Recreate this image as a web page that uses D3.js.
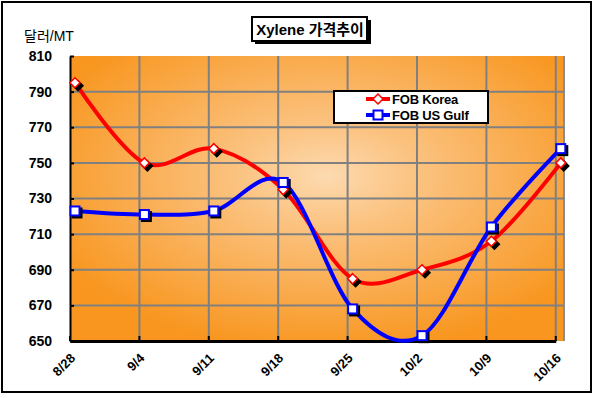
<!DOCTYPE html>
<html><head><meta charset="utf-8">
<script src="https://cdn.jsdelivr.net/npm/d3@7"></script>
<style>body{margin:0;background:#fff}svg{display:block}</style>
</head><body><svg id="c" width="593" height="398"></svg>
<script>
const categories = ["8/28","9/4","9/11","9/18","9/25","10/2","10/9","10/16"];
const fobKorea = [795, 750, 758, 735, 685, 690, 706, 750];
const fobUSGulf = [723, 721, 723, 739, 668, 653, 714, 758];
const yTicks = [650, 670, 690, 710, 730, 750, 770, 790, 810];
const seriesNames = ["FOB Korea", "FOB US Gulf"];
const seriesColors = ["#ff0000", "#0000ff"];

const svg = d3.select("#c");
const fontF = "Arial, 'Liberation Sans', 'Noto Sans CJK KR', sans-serif";

// outer border
svg.append("rect").attr("x",2).attr("y",2).attr("width",589).attr("height",390)
  .attr("fill","#fff").attr("stroke","#000").attr("stroke-width",2);

const L = 70, R = 564, T = 56, B = 341;
const x = d3.scalePoint().domain(categories).range([L, 555.8]);
const mx = d => x(d) + 5;
const y = d3.scaleLinear().domain([650, 810]).range([B, T]);

const defs = svg.append("defs");
const rg = defs.append("radialGradient").attr("id","bg")
  .attr("cx","52%").attr("cy","42%").attr("r","62%");
rg.append("stop").attr("offset","0%").attr("stop-color","#fddab0");
rg.append("stop").attr("offset","30%").attr("stop-color","#fbc27f");
rg.append("stop").attr("offset","100%").attr("stop-color","#f8961f");

svg.append("rect").attr("x",L).attr("y",T).attr("width",R-L).attr("height",B-T)
  .attr("fill","url(#bg)");
svg.append("line").attr("x1",R).attr("x2",R).attr("y1",T).attr("y2",B)
  .attr("stroke","#8c8c8c").attr("stroke-width",2);

// gridlines
svg.append("g").selectAll("line").data(yTicks.filter(t => t > 650 && t < 810)).join("line")
  .attr("x1",L).attr("x2",R).attr("y1",d=>y(d)).attr("y2",d=>y(d))
  .attr("stroke","#808080").attr("stroke-width",2);
svg.append("g").selectAll("line").data(categories.slice(1)).join("line")
  .attr("x1",d=>x(d)).attr("x2",d=>x(d)).attr("y1",T).attr("y2",B)
  .attr("stroke","#808080").attr("stroke-width",2);

// axes
const yAxis = svg.append("g").attr("transform",`translate(${L},0)`)
  .call(d3.axisLeft(y).tickValues(yTicks).tickSize(4).tickSizeOuter(0).tickPadding(14));
yAxis.select(".domain").attr("stroke","#000").attr("stroke-width",2);
yAxis.selectAll(".tick line").attr("stroke","#000").attr("stroke-width",2).attr("x2",4).attr("x1",-0);
yAxis.selectAll("text").attr("font-family",fontF).attr("font-size",14)
  .attr("font-weight","bold").attr("fill","#000");

const xAxis = svg.append("g").attr("transform",`translate(0,${B})`)
  .call(d3.axisBottom(x).tickSize(0).tickSizeOuter(0).tickFormat(()=>""));
xAxis.select(".domain").attr("stroke","#000").attr("stroke-width",3);
xAxis.selectAll(".tick line").remove();
svg.append("g").selectAll("line").data(categories).join("line")
  .attr("x1",d=>x(d)).attr("x2",d=>x(d)).attr("y1",B-5).attr("y2",B)
  .attr("stroke","#000").attr("stroke-width",2);
svg.append("g").selectAll("text").data(categories).join("text")
  .attr("transform",d=>`translate(${x(d)+6},${B+18}) rotate(-45)`)
  .attr("text-anchor","end").attr("font-family",fontF).attr("font-size",13)
  .attr("font-weight","bold").text(d=>d);

// y axis title
svg.append("text").attr("x",24).attr("y",41).attr("font-family",fontF)
  .attr("font-size",14).text("달러/MT");

// lines
const line = d3.line().x((d,i)=>mx(categories[i])).y(d=>y(d)).curve(d3.curveCardinal.tension(0));
[fobKorea, fobUSGulf].forEach((s,k)=>{
  svg.append("path").attr("d",line(s)).attr("fill","none")
    .attr("stroke",seriesColors[k]).attr("stroke-width",4);
});
// markers
function marker(g, kind, cx, cy, color, shadow){
  if(kind==="diamond"){
    g.append("path").attr("d",`M${cx},${cy-5}L${cx+5},${cy}L${cx},${cy+5}L${cx-5},${cy}Z`)
      .attr("fill",shadow?"#000":"#fff").attr("stroke",shadow?"#000":color).attr("stroke-width",1.5);
  } else {
    g.append("rect").attr("x",cx-4.5).attr("y",cy-4.5).attr("width",9).attr("height",9)
      .attr("fill",shadow?"#000":"#fff").attr("stroke",shadow?"#000":color).attr("stroke-width",2);
  }
}
const mg = svg.append("g");
fobKorea.forEach((v,i)=>marker(mg,"diamond",mx(categories[i])+3,y(v)+3,"#000",true));
fobUSGulf.forEach((v,i)=>marker(mg,"square",mx(categories[i])+2,y(v)+2,"#000",true));
fobKorea.forEach((v,i)=>marker(mg,"diamond",mx(categories[i]),y(v),seriesColors[0],false));
fobUSGulf.forEach((v,i)=>marker(mg,"square",mx(categories[i]),y(v),seriesColors[1],false));

// legend
const lg = svg.append("g");
lg.append("rect").attr("x",334).attr("y",91).attr("width",154).attr("height",32)
  .attr("fill","#fff").attr("stroke","#000").attr("stroke-width",2);
seriesNames.forEach((n,k)=>{
  const yy = 99 + k*16;
  lg.append("line").attr("x1",366).attr("x2",390).attr("y1",yy).attr("y2",yy)
    .attr("stroke",seriesColors[k]).attr("stroke-width",4);
  marker(lg, k===0?"diamond":"square", 378, yy, seriesColors[k], false);
  lg.append("text").attr("x",392).attr("y",yy+5).attr("font-family",fontF)
    .attr("font-size",13).attr("font-weight","bold").attr("letter-spacing","-0.2").text(n);
});

// title
svg.append("rect").attr("x",255).attr("y",20).attr("width",116).attr("height",24).attr("fill","#000");
svg.append("rect").attr("x",252).attr("y",17).attr("width",115).attr("height",24)
  .attr("fill","#fff").attr("stroke","#000").attr("stroke-width",2);
svg.append("text").attr("x",310).attr("y",35).attr("text-anchor","middle")
  .attr("font-family",fontF).attr("font-size",15).attr("font-weight","bold").text("Xylene 가격추이");
</script></body></html>
